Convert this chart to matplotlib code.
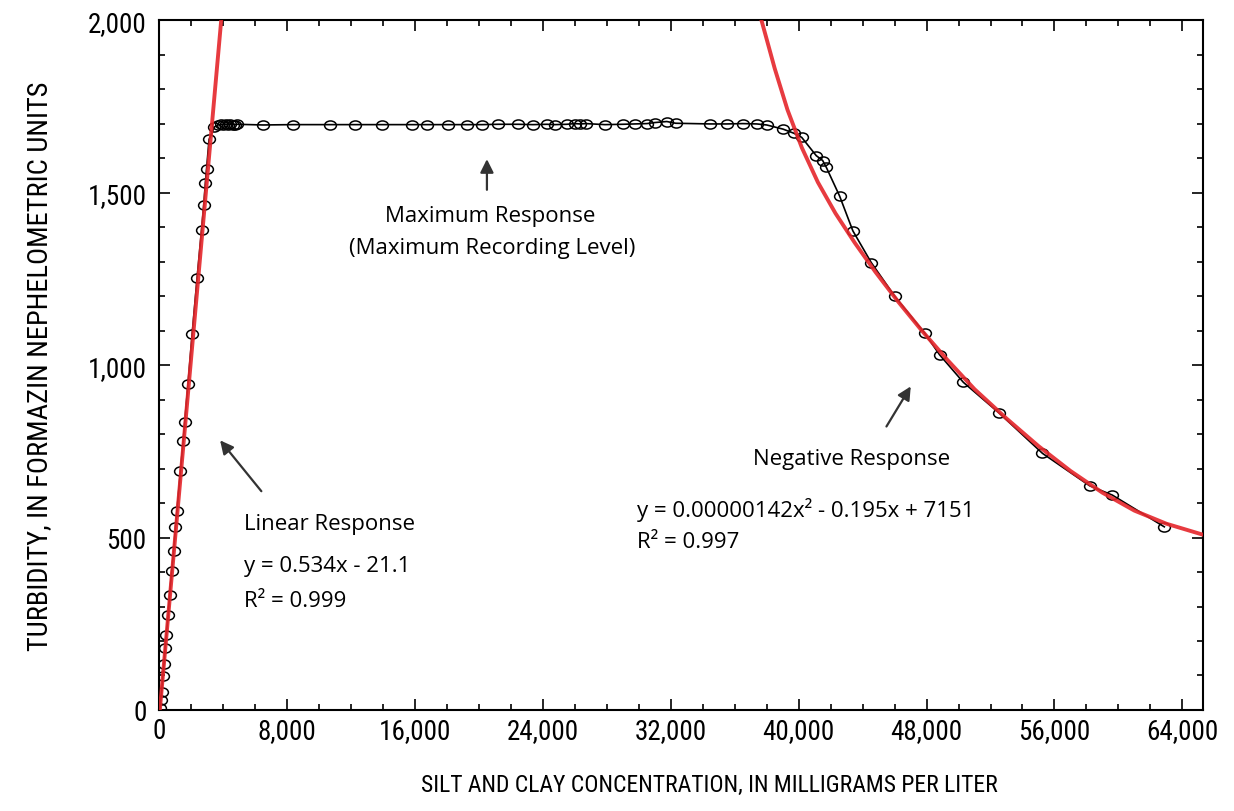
import numpy as np
import matplotlib.pyplot as plt
from matplotlib import font_manager
from matplotlib.path import Path
from matplotlib.transforms import Affine2D
from matplotlib.ticker import MultipleLocator, FuncFormatter

# measured silt/clay concentration (mg/L) and turbidity (FNU)
conc = [50, 100, 150, 230, 300, 370, 440, 560, 650, 780, 900, 1020, 1110, 1330,
        1500, 1600, 1800, 2060, 2370, 2650, 2790, 2890, 2960, 3120, 3450,
        3700, 3850, 4000, 4150, 4300, 4450, 4600, 4750, 4875,
        6500, 8375, 10690, 12250, 13940, 15810, 16750, 18060, 19250, 20190,
        21190, 22440, 23375, 24250, 24750, 25500, 26000, 26310, 26700, 27875,
        29000, 29750, 30500, 31000, 31750, 32300, 34440, 35500, 36500, 37375,
        38000, 39020, 39700, 40190, 41100, 41500, 41730, 42560, 43390, 44540,
        46000, 47875, 48810, 50300, 52560, 55250, 58200, 59620, 62870]
turb = [6, 30, 52, 99, 134, 181, 216, 274, 332, 402, 460, 530, 577, 693,
        780, 836, 944, 1089, 1252, 1392, 1465, 1529, 1567, 1654, 1690,
        1697, 1698, 1697, 1698, 1697, 1698, 1697, 1697, 1698,
        1696, 1697, 1697, 1697, 1697, 1697, 1697, 1697, 1697, 1697,
        1698, 1698, 1697, 1698, 1697, 1698, 1700, 1699, 1700, 1697,
        1698, 1699, 1700, 1703, 1706, 1701, 1699, 1699, 1700, 1699,
        1696, 1684, 1672, 1660, 1607, 1593, 1573, 1490, 1389, 1297,
        1200, 1093, 1030, 950, 860, 744, 650, 623, 531]

# fitted curves
lin_x = [0, 3880]
lin_y = [-21, 2000]
neg_x = [37670, 38500, 39300, 40200, 41200, 42300, 43500, 44800, 46200, 47700,
         49300, 51000, 53000, 55000, 57000, 59000, 61000, 63000, 65300]
neg_y = [2000, 1860, 1740, 1630, 1530, 1440, 1355, 1270, 1185, 1100,
         1015, 930, 845, 765, 693, 630, 578, 540, 508]

# look for a condensed face, else plain DejaVu
names = {f.name for f in font_manager.fontManager.ttflist}
stretch = 'normal'
narrow = ['DejaVu Sans']
for cand in ['Liberation Sans Narrow', 'DejaVu Sans Condensed', 'Roboto Condensed',
             'Open Sans Condensed', 'Noto Sans Condensed']:
    if cand in names:
        narrow = [cand, 'DejaVu Sans']
        break
else:
    if any(f.name == 'DejaVu Sans' and f.stretch == 'condensed'
           for f in font_manager.fontManager.ttflist):
        stretch = 'condensed'
plain = ['Open Sans', 'DejaVu Sans']

ellipse = Path.unit_circle().transformed(Affine2D().scale(1.3, 1.0))

fig = plt.figure(figsize=(12.34, 8.12), dpi=100)
ax = fig.add_axes([0.129, 0.1244, 0.846, 0.8496])

ax.plot(conc, turb, color='black', lw=1.2, marker=ellipse, ms=8.5, mfc='none',
        mec='black', mew=1.1, zorder=2)
ax.plot(lin_x, lin_y, color='#e5262b', lw=2.8, alpha=0.9, zorder=3)
ax.plot(neg_x, neg_y, color='#e5262b', lw=2.8, alpha=0.9, zorder=3)

ax.set_xlim(0, 65300)
ax.set_ylim(0, 2000)
ax.xaxis.set_major_locator(MultipleLocator(8000))
ax.xaxis.set_minor_locator(MultipleLocator(2000))
ax.yaxis.set_major_locator(MultipleLocator(500))
ax.yaxis.set_minor_locator(MultipleLocator(100))
fmt = FuncFormatter(lambda v, p: f'{int(v):,}')
ax.xaxis.set_major_formatter(fmt)
ax.yaxis.set_major_formatter(fmt)
ax.tick_params(which='both', direction='in', top=True, right=True, width=1.2)
ax.tick_params(which='major', length=8)
ax.tick_params(which='minor', length=4.5)
ax.tick_params(axis='x', pad=5)
ax.tick_params(axis='y', pad=9)
for lab in ax.get_xticklabels() + ax.get_yticklabels():
    lab.set_family(narrow)
    lab.set_stretch(stretch)
    lab.set_fontsize(19.5)
for s in ax.spines.values():
    s.set_linewidth(1.5)

ax.set_xlabel('SILT AND CLAY CONCENTRATION, IN MILLIGRAMS PER LITER',
              family=narrow, stretch=stretch, fontsize=17)
ax.xaxis.set_label_coords(0.527, -0.092)
ax.set_ylabel('TURBIDITY, IN FORMAZIN NEPHELOMETRIC UNITS',
              family=narrow, stretch=stretch, fontsize=20.5, labelpad=25)

arrow = dict(arrowstyle='-|>', color='#333333', lw=1.6, mutation_scale=20)
tsize = 16

ax.annotate('', xy=(20500, 1605), xytext=(20500, 1500), arrowprops=arrow)
ax.text(20700, 1433, 'Maximum Response', ha='center', va='center',
        family=plain, fontsize=tsize)
ax.text(20800, 1340, '(Maximum Recording Level)', ha='center', va='center',
        family=plain, fontsize=tsize)

ax.annotate('', xy=(3700, 788), xytext=(6500, 628), arrowprops=arrow)
ax.text(5300, 540, 'Linear Response', ha='left', va='center',
        family=plain, fontsize=tsize)
ax.text(5300, 419, 'y = 0.534x - 21.1', ha='left', va='center',
        family=plain, fontsize=tsize)
ax.text(5300, 317, 'R² = 0.999', ha='left', va='center',
        family=plain, fontsize=tsize)

ax.annotate('', xy=(47100, 945), xytext=(45400, 815), arrowprops=arrow)
ax.text(43300, 730, 'Negative Response', ha='center', va='center',
        family=plain, fontsize=tsize)
ax.text(29900, 584, 'y = 0.00000142x² - 0.195x + 7151', ha='left', va='center',
        family=plain, fontsize=tsize)
ax.text(29900, 488, 'R² = 0.997', ha='left', va='center',
        family=plain, fontsize=tsize)

fig.savefig('out.png', dpi=100)
